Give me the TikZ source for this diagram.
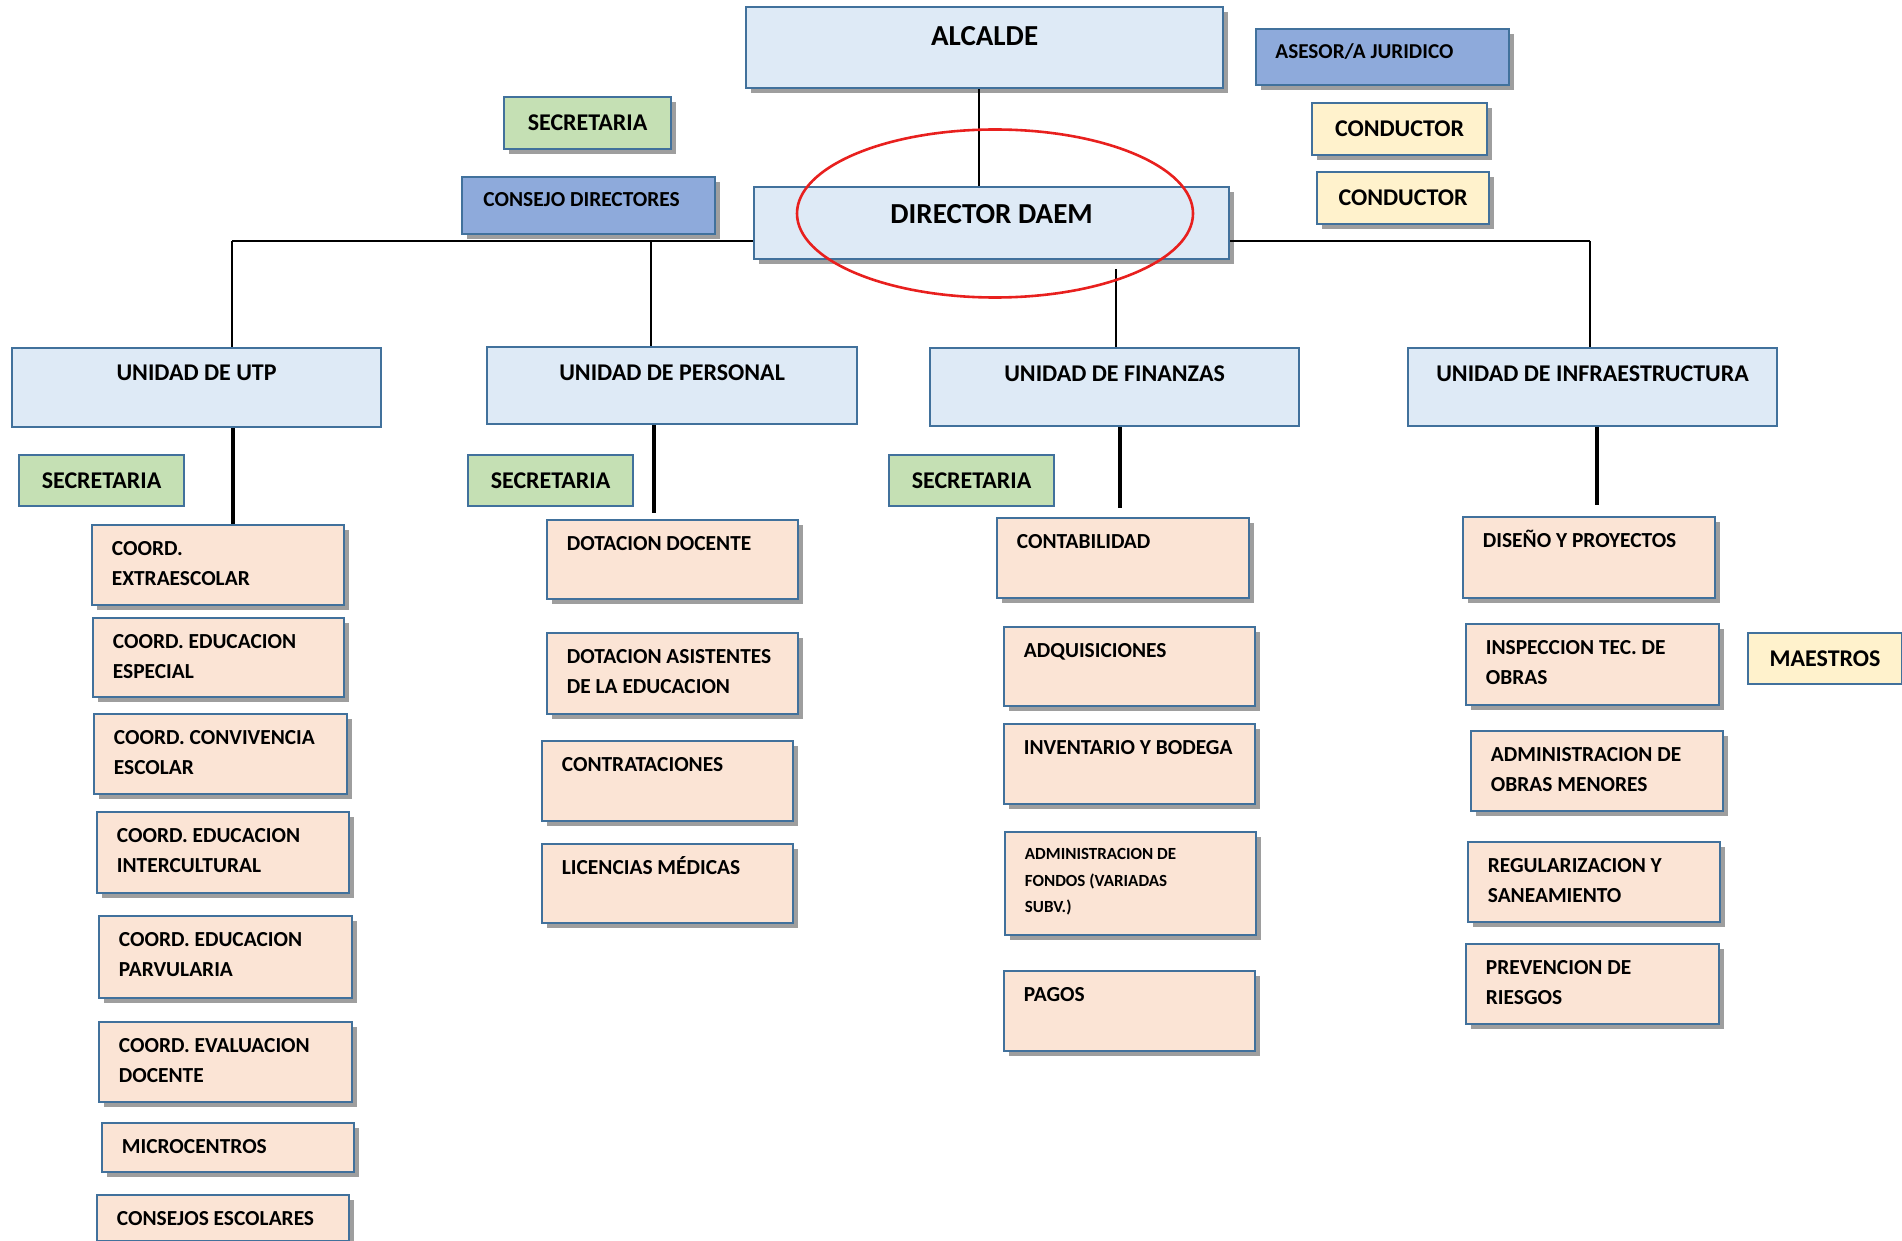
\documentclass[tikz,border=0pt]{standalone}
\usepackage{fontspec}
\setmainfont{Carlito}
\usetikzlibrary{shadows,calc}
\definecolor{bordc}{HTML}{41719C}
\definecolor{lblue}{HTML}{DEEAF6}
\definecolor{mblue}{HTML}{8EAADB}
\definecolor{lgreen}{HTML}{C5E0B4}
\definecolor{lyellow}{HTML}{FFF2CC}
\definecolor{lpink}{HTML}{FBE4D5}
\definecolor{shadc}{HTML}{9E9E9E}
\definecolor{ellred}{HTML}{E8201E}
\newcommand\mkbox[6]{\node[#2, minimum width={(#5-#3)*0.5pt}, minimum height={(#6-#4)*0.5pt}] (#1) at (#3,#4) {};}
\newcommand\pinkbox[6]{\mkbox{#1}{pinkb}{#2}{#3}{#4}{#5}\node[ptxt] (#1t) at ($(#1.north west)+(20.5,31)$) {\parbox[t]{200pt}{\raggedright #6}};}
\begin{document}
\begin{tikzpicture}[x=0.5pt,y=-0.5pt,
 box/.style={rectangle, draw=bordc, line width=1.1pt, inner sep=0pt, anchor=north west},
 shad/.style={drop shadow={shadow xshift=2.5pt, shadow yshift=-2.5pt, fill=shadc, opacity=1}},
 lbb/.style={box, fill=lblue},
 lbs/.style={box, fill=lblue, shad},
 mbs/.style={box, fill=mblue, shad},
 gb/.style={box, fill=lgreen},
 gs/.style={box, fill=lgreen, shad},
 yb/.style={box, fill=lyellow},
 ys/.style={box, fill=lyellow, shad},
 pinkb/.style={box, fill=lpink, shad},
 txt/.style={inner sep=0pt, font=\bfseries\fontsize{12}{14}\selectfont},
 bigtxt/.style={txt, anchor=base, font=\bfseries\fontsize{14.5}{17}\selectfont},
 unittxt/.style={txt, anchor=base},
 smtxt/.style={inner sep=0pt, anchor=base west, font=\bfseries\fontsize{10.6}{15}\selectfont},
 ptxt/.style={inner sep=0pt, anchor=base west, font=\bfseries\fontsize{10.7}{15}\selectfont},
 conn/.style={draw=black, line width=0.75pt},
 tconn/.style={draw=black, line width=2pt},
]
\useasboundingbox (0,0) rectangle (1902,1241);
% top level
\mkbox{alc}{lbs}{745}{6}{1222}{87}
\node[bigtxt] (alct) at ($(alc.north)+(0,40)$) {ALCALDE};
\mkbox{ase}{mbs}{1255}{28}{1508}{84}
\node[smtxt] (aset) at ($(ase.north west)+(20,31)$) {ASESOR/A JURIDICO};
\mkbox{con1}{ys}{1311}{102}{1486}{154}
\node[txt] (con1t) at (con1.center) {CONDUCTOR};
\mkbox{con2}{ys}{1316}{171}{1488}{223}
\node[txt] (con2t) at (con2.center) {CONDUCTOR};
\mkbox{sec0}{gs}{503}{96}{670}{148}
\node[txt] (sec0t) at (sec0.center) {SECRETARIA};
\mkbox{cons}{mbs}{461}{176}{714}{233}
\node[smtxt, font=\bfseries\fontsize{10.7}{14}\selectfont] (const) at ($(cons.north west)+(22,30.6)$) {CONSEJO DIRECTORES};
\mkbox{dir}{lbs}{753}{186}{1228}{258}
\node[bigtxt] (dirt) at ($(dir.north)+(0,38)$) {DIRECTOR DAEM};
% units
\mkbox{utp}{lbb}{11}{347}{380}{426}
\node[unittxt] (utpt) at ($(utp.north)+(0,33)$) {UNIDAD DE UTP};
\mkbox{per}{lbb}{486}{346}{856}{423}
\node[unittxt] (pert) at ($(per.north)+(0,34)$) {UNIDAD DE PERSONAL};
\mkbox{fin}{lbb}{929}{347}{1298}{425}
\node[unittxt] (fint) at ($(fin.north)+(0,34)$) {UNIDAD DE FINANZAS};
\mkbox{inf}{lbb}{1407}{347}{1776}{425}
\node[unittxt] (inft) at ($(inf.north)+(0,34)$) {UNIDAD DE INFRAESTRUCTURA};
% secretarias
\mkbox{sutp}{gb}{18}{454}{183}{505}
\node[txt] (sutpt) at (sutp.center) {SECRETARIA};
\mkbox{sper}{gb}{467}{454}{632}{505}
\node[txt] (spert) at (sper.center) {SECRETARIA};
\mkbox{sfin}{gb}{888}{454}{1053}{505}
\node[txt] (sfint) at (sfin.center) {SECRETARIA};
\mkbox{mae}{yb}{1747}{632}{1901}{683}
\node[txt] (maet) at (mae.center) {MAESTROS};
% UTP column
\pinkbox{u1}{91}{524}{343}{604}{COORD.\\EXTRAESCOLAR}
\pinkbox{u2}{92}{617}{343}{696}{COORD. EDUCACION\\ESPECIAL}
\pinkbox{u3}{93}{713}{346}{793}{COORD. CONVIVENCIA\\ESCOLAR}
\pinkbox{u4}{96}{811}{348}{892}{COORD. EDUCACION\\INTERCULTURAL}
\pinkbox{u5}{98}{915}{351}{997}{COORD. EDUCACION\\PARVULARIA}
\pinkbox{u6}{98}{1021}{351}{1101}{COORD. EVALUACION\\DOCENTE}
\pinkbox{u7}{101}{1122}{353}{1171}{MICROCENTROS}
\pinkbox{u8}{96}{1194}{348}{1240}{CONSEJOS ESCOLARES}
% Personal column
\pinkbox{p1}{546}{519}{797}{598}{DOTACION DOCENTE}
\pinkbox{p2}{546}{632}{797}{713}{DOTACION ASISTENTES\\DE LA EDUCACION}
\pinkbox{p3}{541}{740}{792}{820}{CONTRATACIONES}
\pinkbox{p4}{541}{843}{792}{922}{LICENCIAS MÉDICAS}
% Finanzas column
\pinkbox{f1}{996}{517}{1248}{597}{CONTABILIDAD}
\pinkbox{f2}{1003}{626}{1254}{705}{ADQUISICIONES}
\pinkbox{f3}{1003}{723}{1254}{803}{INVENTARIO Y BODEGA}
\mkbox{f4}{pinkb}{1004}{831}{1255}{934}
\node[ptxt, font=\bfseries\fontsize{8.5}{13.3}\selectfont] (f4t) at ($(f4.north west)+(20.5,28.5)$) {\parbox[t]{200pt}{\raggedright ADMINISTRACION DE\\FONDOS (VARIADAS\\SUBV.)}};
\pinkbox{f5}{1003}{970}{1254}{1050}{PAGOS}
% Infra column
\pinkbox{i1}{1462}{516}{1714}{597}{DISEÑO Y PROYECTOS}
\pinkbox{i2}{1465}{623}{1718}{704}{INSPECCION TEC. DE\\OBRAS}
\pinkbox{i3}{1470}{730}{1722}{810}{ADMINISTRACION DE\\OBRAS MENORES}
\pinkbox{i4}{1467}{841}{1719}{921}{REGULARIZACION Y\\SANEAMIENTO}
\pinkbox{i5}{1465}{943}{1718}{1023}{PREVENCION DE\\RIESGOS}
% connectors
\coordinate (ax) at (979,0);
\coordinate (hl) at (232,241);
\coordinate (hr) at (1590,241);
\coordinate (xp) at (651,0);
\coordinate (xf) at (1116,269);
\draw[conn] (alc.south -| ax) -- (dir.north -| ax);
\draw[conn] (hl) -- (dir.west |- hl);
\draw[conn] (dir.east |- hr) -- (hr);
\draw[conn] (hl) -- (utp.north -| hl);
\draw[conn] (hl -| xp) -- (per.north -| xp);
\draw[conn] (xf) -- (fin.north -| xf);
\draw[conn] (hr) -- (inf.north -| hr);
\coordinate (tu) at (233,0);
\coordinate (tp) at (654,0);
\coordinate (tf) at (1120,0);
\coordinate (ti) at (1597,0);
\draw[tconn] (utp.south -| tu) -- (u1.north -| tu);
\draw[tconn] (per.south -| tp) -- ($(p1.north -| tp)+(0,-6)$);
\draw[tconn] (fin.south -| tf) -- ($(f1.north -| tf)+(0,-9)$);
\draw[tconn] (inf.south -| ti) -- ($(i1.north -| ti)+(0,-11)$);
% red ellipse
\draw[ellred, line width=1.3pt] (995,213.5) ellipse [x radius=99pt, y radius=42pt];
\end{tikzpicture}
\end{document}
